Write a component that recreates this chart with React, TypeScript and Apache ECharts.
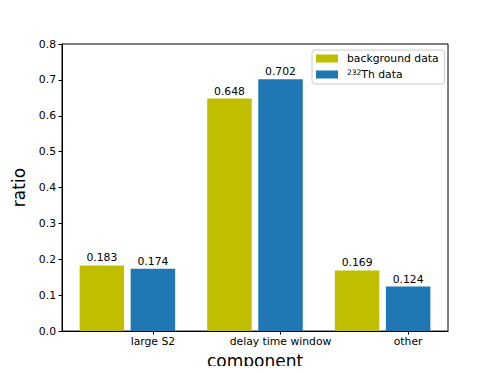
import React, { useEffect, useRef } from "react";
import * as echarts from "echarts";

const categories = ["large S2", "delay time window", "other"];
const backgroundData = [0.183, 0.648, 0.169];
const thData = [0.174, 0.702, 0.124];
const seriesNames = ["background data", "232Th data"];

const FONT = "DejaVu Sans";
const OLIVE = "#bfbf00";
const BLUE = "#1f77b4";
const OFFSET = 0.4;

export default function App() {
  const ref = useRef<HTMLDivElement>(null);
  useEffect(() => {
    if (!ref.current) return;
    const chart = echarts.init(ref.current, null, { renderer: "svg" });
    const tickVals = categories.map((_, i) => i + OFFSET);
    const labelOpt = {
      show: true,
      position: "top",
      distance: 2,
      color: "#000",
      fontFamily: FONT,
      fontSize: 10.8,
      formatter: (p: any) => Number(p.value[1]).toFixed(3),
    };
    chart.setOption({
      animation: false,
      backgroundColor: "#fff",
      textStyle: { fontFamily: FONT },
      grid: {
        left: 62,
        right: 50,
        top: 44,
        bottom: 41,
        show: true,
        borderColor: "#000",
        borderWidth: 1,
        backgroundColor: "transparent",
      },
      legend: {
        orient: "vertical",
        left: 312,
        top: 50,
        padding: [3, 6, 3, 4],
        itemGap: 4,
        itemWidth: 22,
        itemHeight: 8,
        icon: "rect",
        borderColor: "#cccccc",
        borderWidth: 1,
        borderRadius: 3,
        backgroundColor: "#fff",
        data: seriesNames,
        formatter: (name: string) =>
          name === seriesNames[1] ? "{sup|232}{txt|Th data}" : "{txt|" + name + "}",
        textStyle: {
          fontFamily: FONT,
          fontSize: 10.8,
          color: "#000",
          padding: [0, 0, 0, 4],
          rich: {
            txt: { fontFamily: FONT, fontSize: 10.8, color: "#000", lineHeight: 13 },
            sup: {
              fontFamily: FONT,
              fontSize: 7.5,
              color: "#000",
              lineHeight: 13,
              padding: [0, 0, 5, 0],
            },
          },
        },
      },
      xAxis: {
        type: "value",
        min: -0.3125,
        max: 2.7125,
        name: "component",
        nameLocation: "middle",
        nameGap: 18,
        nameTextStyle: { fontFamily: FONT, fontSize: 17, color: "#000", verticalAlign: "top" },
        axisLine: { show: true, onZero: false, lineStyle: { color: "#000", width: 1 } },
        axisTick: {
          show: true,
          length: 3.5,
          lineStyle: { color: "#000" },
          customValues: tickVals,
        },
        axisLabel: {
          show: true,
          margin: 5,
          color: "#000",
          fontFamily: FONT,
          fontSize: 10.8,
          hideOverlap: false,
          customValues: tickVals,
          formatter: (v: number) => {
            const i = Math.round(v - OFFSET);
            return categories[i] ?? "";
          },
        },
        splitLine: { show: false },
      },
      yAxis: {
        type: "value",
        min: 0,
        max: 0.8,
        interval: 0.1,
        name: "ratio",
        nameLocation: "middle",
        nameGap: 23,
        nameTextStyle: { fontFamily: FONT, fontSize: 17, color: "#000" },
        axisLine: { show: true, onZero: false, lineStyle: { color: "#000", width: 1 } },
        axisTick: { show: true, length: 3.5, lineStyle: { color: "#000" } },
        axisLabel: {
          margin: 6,
          color: "#000",
          fontFamily: FONT,
          fontSize: 10.8,
          formatter: (v: number) => v.toFixed(1),
        },
        splitLine: { show: false },
      },
      series: [
        {
          name: seriesNames[0],
          type: "bar",
          barWidth: 44.5,
          barGap: "-100%",
          itemStyle: { color: OLIVE },
          label: labelOpt,
          data: backgroundData.map((v, i) => [i, v]),
        },
        {
          name: seriesNames[1],
          type: "bar",
          barWidth: 44.5,
          barGap: "-100%",
          itemStyle: { color: BLUE },
          label: labelOpt,
          data: thData.map((v, i) => [i + OFFSET, v]),
        },
      ],
    });
    return () => chart.dispose();
  }, []);
  return <div ref={ref} style={{ width: 498, height: 374, margin: -8 }} />;
}
